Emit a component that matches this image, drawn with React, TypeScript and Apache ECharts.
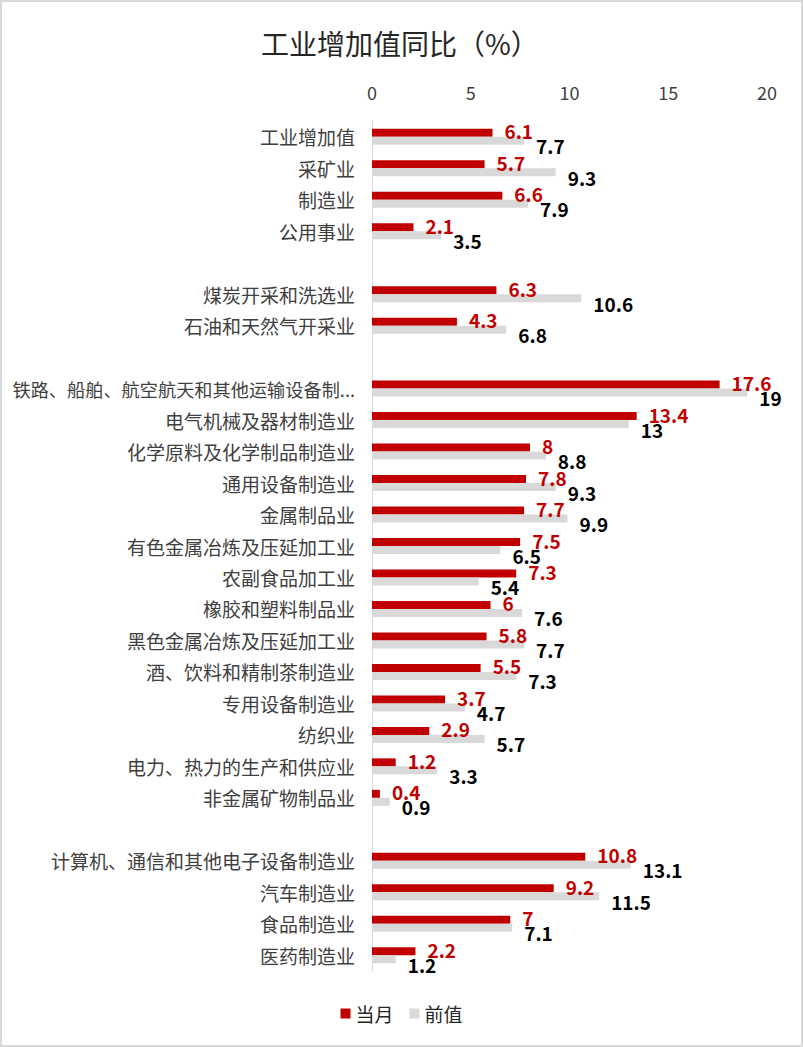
import React, { useEffect, useRef } from "react";
import * as echarts from "echarts";

const categories = [
  "工业增加值",
  "采矿业",
  "制造业",
  "公用事业",
  " ",
  "煤炭开采和洗选业",
  "石油和天然气开采业",
  "  ",
  "铁路、船舶、航空航天和其他运输设备制...",
  "电气机械及器材制造业",
  "化学原料及化学制品制造业",
  "通用设备制造业",
  "金属制品业",
  "有色金属冶炼及压延加工业",
  "农副食品加工业",
  "橡胶和塑料制品业",
  "黑色金属冶炼及压延加工业",
  "酒、饮料和精制茶制造业",
  "专用设备制造业",
  "纺织业",
  "电力、热力的生产和供应业",
  "非金属矿物制品业",
  "   ",
  "计算机、通信和其他电子设备制造业",
  "汽车制造业",
  "食品制造业",
  "医药制造业",
];

const currentMonth = [
  6.1, 5.7, 6.6, 2.1, null, 6.3, 4.3, null, 17.6, 13.4, 8, 7.8, 7.7, 7.5, 7.3, 6,
  5.8, 5.5, 3.7, 2.9, 1.2, 0.4, null, 10.8, 9.2, 7, 2.2,
];

const previousValue = [
  7.7, 9.3, 7.9, 3.5, null, 10.6, 6.8, null, 19, 13, 8.8, 9.3, 9.9, 6.5, 5.4, 7.6,
  7.7, 7.3, 4.7, 5.7, 3.3, 0.9, null, 13.1, 11.5, 7.1, 1.2,
];

const xTicks = { min: 0, max: 20, interval: 5 };

const FONT = '"Noto Sans CJK SC", "Microsoft YaHei", sans-serif';

export default function App() {
  const ref = useRef<HTMLDivElement>(null);

  useEffect(() => {
    if (!ref.current) return;
    const chart = echarts.init(ref.current, undefined, { renderer: "svg" });
    chart.setOption({
      animation: false,
      backgroundColor: "#ffffff",
      textStyle: { fontFamily: FONT },
      title: {
        text: "工业增加值同比（%）",
        left: 256,
        top: 24,
        textStyle: { fontSize: 28, fontWeight: "normal", color: "#262626", fontFamily: FONT },
      },
      graphic: [
        {
          type: "rect",
          shape: { x: 1, y: 1, width: 801, height: 1045 },
          style: { fill: "none", stroke: "#d9d9d9", lineWidth: 2 },
          silent: true,
        },
      ],
      legend: {
        bottom: 19,
        left: "center",
        icon: "rect",
        itemWidth: 10,
        itemHeight: 10,
        itemGap: 16,
        textStyle: { fontSize: 19, color: "#262626", fontFamily: FONT },
        data: ["当月", "前值"],
      },
      grid: {
        left: 372,
        right: 36,
        top: 121,
        bottom: 76,
        containLabel: false,
        outerBoundsMode: "none",
      },
      xAxis: {
        type: "value",
        position: "top",
        min: xTicks.min,
        max: xTicks.max,
        interval: xTicks.interval,
        splitLine: { show: false },
        axisLine: { show: false },
        axisTick: { show: false },
        axisLabel: { fontSize: 18, color: "#404040", margin: 20, fontFamily: FONT },
      },
      yAxis: {
        type: "category",
        inverse: true,
        data: categories,
        axisLine: { show: true, lineStyle: { color: "#d9d9d9", width: 1 } },
        axisTick: { show: false },
        axisLabel: {
          fontSize: 19,
          color: "#404040",
          margin: 17,
          fontFamily: FONT,
          formatter: (v: string) => (v.length > 20 ? `{s|${v}}` : v),
          rich: { s: { fontSize: 18.2, color: "#404040", fontFamily: FONT } },
        },
      },
      series: [
        {
          name: "当月",
          type: "bar",
          data: currentMonth.map((v) => (v === null ? "-" : v)),
          barWidth: 8,
          barGap: "0%",
          itemStyle: { color: "#C00000" },
          label: {
            show: true,
            position: "right",
            distance: 12,
            offset: [0, -2],
            fontSize: 19,
            fontWeight: "bold",
            color: "#C00000",
            fontFamily: FONT,
          },
        },
        {
          name: "前值",
          type: "bar",
          data: previousValue.map((v) => (v === null ? "-" : v)),
          barWidth: 8,
          barGap: "0%",
          itemStyle: { color: "#D9D9D9" },
          label: {
            show: true,
            position: "right",
            distance: 12,
            offset: [0, 5],
            fontSize: 19,
            fontWeight: "bold",
            color: "#000000",
            fontFamily: FONT,
          },
        },
      ],
    });
    return () => chart.dispose();
  }, []);

  return (
    <div
      ref={ref}
      style={{ position: "absolute", left: 0, top: 0, width: 803, height: 1047 }}
    />
  );
}
